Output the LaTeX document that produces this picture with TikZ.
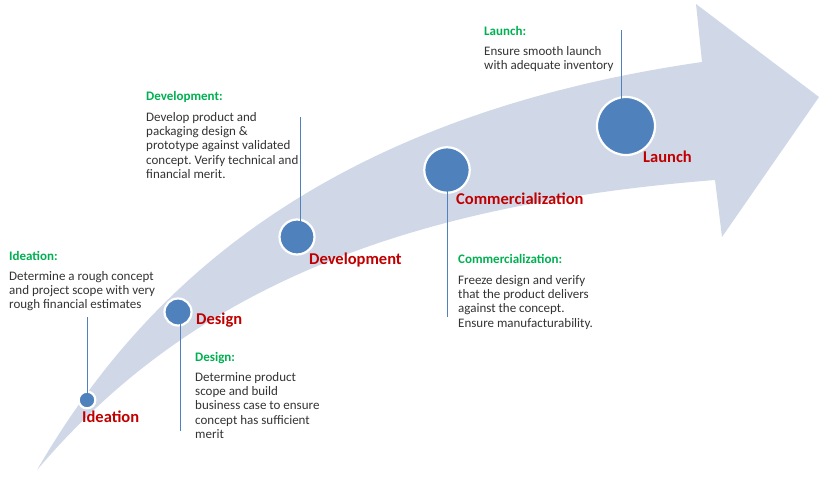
\documentclass[tikz,border=0pt]{standalone}
\usepackage{fontspec}
\setmainfont{Carlito}
\frenchspacing
\definecolor{bandc}{HTML}{D0D8E8}
\definecolor{dotc}{HTML}{4F81BD}
\definecolor{stagered}{HTML}{C00000}
\definecolor{titlegreen}{HTML}{00B050}
\definecolor{bodygray}{HTML}{333333}
\tikzset{
  dot/.style={circle, fill=dotc, draw=white, line width=2.2pt, inner sep=0pt},
  stagelabel/.style={anchor=base west, inner sep=0pt, text=stagered, font=\fontsize{16.5}{18}\selectfont\bfseries},
  steptitle/.style={anchor=base west, inner sep=0pt, text=titlegreen, font=\fontsize{13}{15}\selectfont\bfseries},
  stepbody/.style={anchor=base west, inner sep=0pt, text=bodygray, align=left, font=\fontsize{13}{14.3}\selectfont},
  leader/.style={draw=dotc, line width=1pt}
}
\begin{document}
\begin{tikzpicture}[x=1pt,y=-1pt]
\useasboundingbox (0,0) rectangle (819,484);
% curved arrow band
\fill[bandc] (37,470) .. controls (130,310) and (300,120) .. (702,62)
  -- (696,4) -- (819,97) -- (722,237) -- (715,180)
  .. controls (400,205) and (190,290) .. (37,470) -- cycle;
% circles
\node[dot, minimum size=16.7pt] (c1) at (87,400) {};
\node[dot, minimum size=27pt] (c2) at (178,312) {};
\node[dot, minimum size=35pt] (c3) at (297,237) {};
\node[dot, minimum size=45.5pt] (c4) at (447,170) {};
\node[dot, minimum size=58pt] (c5) at (626,126) {};
% leader lines
\coordinate (t1) at (87,317);
\coordinate (t2) at (180,431);
\coordinate (t3) at (300,117);
\coordinate (t4) at (447.5,317);
\coordinate (t5) at (621,30);
\coordinate (e5) at (621,112);
\draw[leader] (t1) -- (c1.center);
\draw[leader] (t2) -- (t2 |- c2.center);
\draw[leader] (t3) -- (t3 |- c3.center);
\draw[leader] (t4) -- (t4 |- c4.center);
\draw[leader] (t5) -- (e5);
% stage labels
\node[stagelabel] (l1) at (82,422) {Ideation};
\node[stagelabel] (l2) at (196,324.3) {Design};
\node[stagelabel] (l3) at (309,264) {Development};
\node[stagelabel] (l4) at (456,204) {Commercialization};
\node[stagelabel] (l5) at (643,162) {Launch};
% descriptions (base anchor = baseline of last line)
\node[steptitle] (h1) at (9,260) {Ideation:};
\node[stepbody] (b1) at (9,308.6) {Determine a rough concept\\and project scope with very\\rough financial estimates};
\node[steptitle] (h2) at (195,361) {Design:};
\node[stepbody] (b2) at (195,438.5) {Determine product\\scope and build\\business case to ensure\\concept has sufficient\\merit};
\node[steptitle] (h3) at (146,101) {Development:};
\node[stepbody] (b3) at (146,178.5) {Develop product and\\packaging design \&\\prototype against validated\\concept. Verify technical and\\financial merit.};
\node[steptitle] (h4) at (458,263.3) {Commercialization:};
\node[stepbody] (b4) at (458,327.2) {Freeze design and verify\\that the product delivers\\against the concept.\\Ensure manufacturability.};
\node[steptitle] (h5) at (484,35.3) {Launch:};
\node[stepbody] (b5) at (484,69.6) {Ensure smooth launch\\with adequate inventory};
\end{tikzpicture}
\end{document}
